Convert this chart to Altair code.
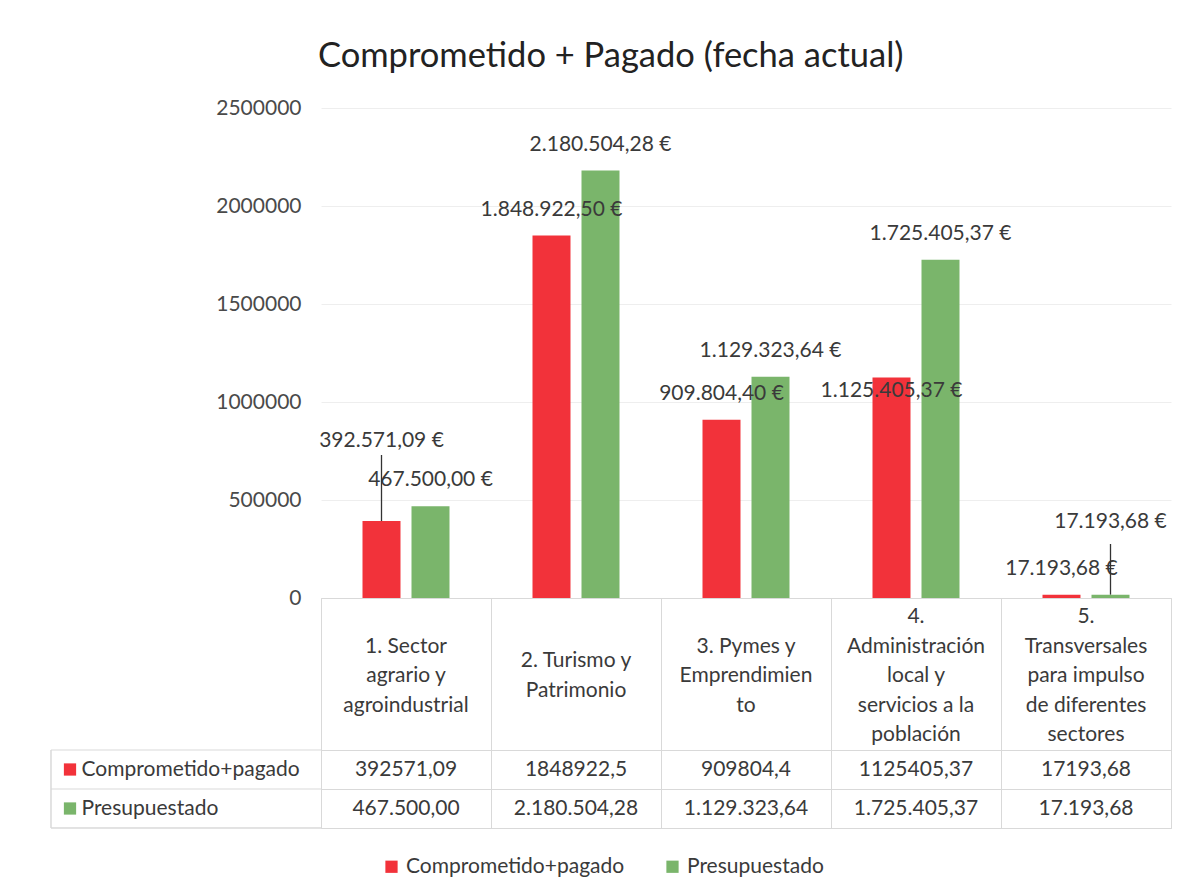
import altair as alt
import pandas as pd

FONT = "Lato"
TEXT = "#3a3a3a"
AXIS_TEXT = "#4a4a4a"
LINE = "#d9d9d9"
RED = "#f2323a"
GREEN = "#7ab56b"

categories = [
    "1. Sector agrario y agroindustrial",
    "2. Turismo y Patrimonio",
    "3. Pymes y Emprendimiento",
    "4. Administración local y servicios a la población",
    "5. Transversales para impulso de diferentes sectores",
]
category_headers = [
    "1. Sector\nagrario y\nagroindustrial",
    "2. Turismo y\nPatrimonio",
    "3. Pymes y\nEmprendimien\nto",
    "4.\nAdministración\nlocal y\nservicios a la\npoblación",
    "5.\nTransversales\npara impulso\nde diferentes\nsectores",
]
series = ["Comprometido+pagado", "Presupuestado"]
comprometido = [392571.09, 1848922.5, 909804.4, 1125405.37, 17193.68]
presupuestado = [467500.00, 2180504.28, 1129323.64, 1725405.37, 17193.68]
y_ticks = [0, 500000, 1000000, 1500000, 2000000, 2500000]


def es_num(v):
    s = f"{v:,.2f}"
    return s.replace(",", "X").replace(".", ",").replace("X", ".")


rows = []
for i, c in enumerate(categories):
    for s, vals in zip(series, [comprometido, presupuestado]):
        v = vals[i]
        rows.append({
            "idx": i,
            "cat": c,
            "serie": s,
            "valor": v,
            "etiqueta": es_num(v) + " €",
            "tabla": str(v).replace(".", ",") if s == series[0] else es_num(v),
        })
df = pd.DataFrame(rows)
hdf = pd.DataFrame({"cat": categories, "header": category_headers,
                    "nlines": [h.count("\n") + 1 for h in category_headers]})

x_scale = alt.Scale(domain=categories, paddingInner=0, paddingOuter=0)
off_scale = alt.Scale(domain=series, paddingInner=0.2245, paddingOuter=0.847)
y_scale = alt.Scale(domain=[0, 2500000], nice=False, zero=True)
X = alt.X("cat:N", sort=categories, scale=x_scale, axis=None)
XO = alt.XOffset("serie:N", sort=series, scale=off_scale)
Y = alt.Y("valor:Q", scale=y_scale,
          axis=alt.Axis(values=y_ticks, format="d", title=None, labelFontSize=21,
                        labelColor=AXIS_TEXT, labelFont=FONT, domain=False, ticks=False,
                        labelPadding=20, gridColor="#eeeeee"))
Yl = alt.Y("valor:Q", scale=y_scale)

bars = alt.Chart(df).mark_bar().encode(
    x=X, xOffset=XO, y=Y,
    color=alt.Color("serie:N", scale=alt.Scale(domain=series, range=[RED, GREEN]), legend=None),
)

moved = {(series[0], 0): -80, (series[0], 3): 14, (series[1], 4): -73}
mask = df.apply(lambda r: (r["serie"], r["idx"]) in moved, axis=1)

label_layers = [
    alt.Chart(df[~mask]).mark_text(fontSize=21, font=FONT, color=TEXT, baseline="middle", dy=-26)
    .encode(x=X, xOffset=XO, y=Yl, text="etiqueta:N")
]
for (s, i), dy in moved.items():
    sub = df[(df["serie"] == s) & (df["idx"] == i)]
    label_layers.append(
        alt.Chart(sub).mark_text(fontSize=21, font=FONT, color=TEXT, baseline="middle", dy=dy)
        .encode(x=X, xOffset=XO, y=Yl, text="etiqueta:N")
    )

lead1 = alt.Chart(df[(df["serie"] == series[0]) & (df["idx"] == 0)]).mark_rule(
    color="#333333", strokeWidth=1.3).encode(x=X, xOffset=XO, y=Yl, y2=alt.value(347))
lead2 = alt.Chart(df[(df["serie"] == series[1]) & (df["idx"] == 4)]).mark_rule(
    color="#333333", strokeWidth=1.3).encode(x=X, xOffset=XO, y=Yl, y2=alt.value(436))

top = alt.layer(bars, *label_layers, lead1, lead2).properties(width=850, height=490)

grid_x = alt.X("cat:N", sort=categories, scale=x_scale,
               axis=alt.Axis(grid=True, tickBand="extent", labels=False, ticks=False,
                             domain=False, title=None, gridColor=LINE))

LH = 29.5
header_layers = []
for n in sorted(hdf["nlines"].unique()):
    header_layers.append(
        alt.Chart(hdf[hdf["nlines"] == n]).mark_text(
            fontSize=21, font=FONT, color=TEXT, lineBreak="\n", lineHeight=LH,
            baseline="middle", dy=-(n - 1) * LH / 2 + 2
        ).encode(x=grid_x, text="header:N")
    )
header = alt.layer(*header_layers).properties(
    width=850, height=152, view=alt.ViewBackground(stroke=LINE))

Yrow = alt.Y("serie:N", sort=series, scale=alt.Scale(domain=series, paddingInner=0, paddingOuter=0),
             axis=alt.Axis(grid=True, tickBand="extent", labelAlign="left", labelPadding=240,
                           labelLimit=400, ticks=False, domain=False, title=None, labelFontSize=21,
                           labelFont=FONT, labelColor=TEXT, gridColor=LINE))

tvals = alt.Chart(df).mark_text(fontSize=21, font=FONT, color=TEXT, baseline="middle").encode(
    x=grid_x, y=Yrow, text="tabla:N")
squares = alt.Chart(df[df["idx"] == 0]).mark_square(size=150, opacity=1).encode(
    x=alt.value(-251), y=Yrow,
    color=alt.Color("serie:N", scale=alt.Scale(domain=series, range=[RED, GREEN]),
                    legend=alt.Legend(orient="none", legendX=60, legendY=106, direction="horizontal",
                                      title=None, symbolType="square", symbolSize=150,
                                      labelFontSize=21, labelFont=FONT, labelColor=TEXT,
                                      labelLimit=400, columnPadding=37,
                                      symbolStrokeWidth=0, symbolOpacity=1)))
left_h = alt.Chart(df[df["idx"] == 0]).mark_rule(color=LINE).encode(
    x=alt.value(-270), x2=alt.value(0), y=alt.Y("serie:N", sort=series, bandPosition=0))
left_bottom = alt.Chart(df[df["idx"] == 0]).mark_rule(color=LINE).encode(
    x=alt.value(-270), x2=alt.value(0), y=alt.value(78))
left_v = alt.Chart(df[df["idx"] == 0]).mark_rule(color=LINE).encode(
    x=alt.value(-270), y=alt.value(0), y2=alt.value(78))

table = alt.layer(tvals, squares, left_h, left_bottom, left_v).properties(
    width=850, height=78, view=alt.ViewBackground(stroke=LINE))

chart = alt.vconcat(top, header, table, spacing=0, bounds="flush").resolve_scale(
    color="independent"
).resolve_legend(color="independent").properties(
    title=alt.Title("Comprometido + Pagado (fecha actual)", fontSize=34.5, font=FONT,
                    fontWeight="normal", color="#222222", anchor="middle", offset=22),
    padding={"left": 42, "top": 31, "right": 10, "bottom": 55},
).configure_view(stroke="transparent")

chart.save("out.html", embed_options={"renderer": "svg", "actions": False})
